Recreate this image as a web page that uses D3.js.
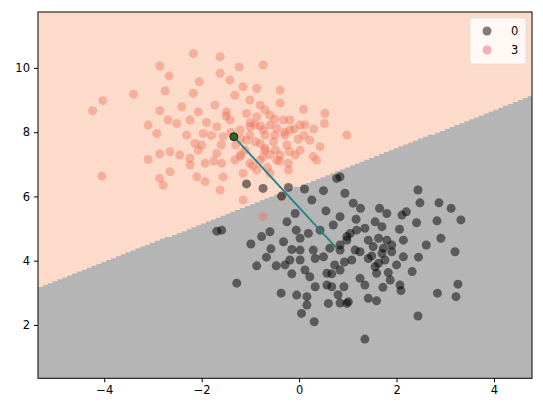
<!DOCTYPE html>
<html><head><meta charset="utf-8">
<script src="https://cdn.jsdelivr.net/npm/d3@7/dist/d3.min.js"></script>
<style>body{margin:0;background:#fff}svg{display:block}text{font-family:"DejaVu Sans",sans-serif}</style>
</head><body><svg id="c" width="543" height="413"></svg>
<script>
const xDomain=[-5.36,4.78];
const yDomain=[0.34,11.74];
const xTicks=[-4,-2,0,2,4];
const yTicks=[2,4,6,8,10];
const boundaryLeftY=3.15, boundaryRightY=9.12;
const class0X=[-1.08,-0.74,-0.22,-0.36,0.11,0.50,0.26,0.77,0.55,-1.69,-1.59,-0.99,-0.77,-0.60,-0.32,-0.58,-0.25,-0.08,-0.06,0.02,0.19,0.43,0.70,-0.15,0.02,-0.67,-0.87,-0.47,-0.29,-0.19,-0.15,0.02,0.12,0.22,0.29,0.33,0.50,0.63,0.57,0.67,-1.28,-0.37,-0.05,0.16,0.33,0.57,0.67,0.16,0.60,0.05,0.31,
2.44,2.48,2.87,3.12,3.32,2.41,2.83,0.94,0.84,1.11,1.26,1.65,1.80,2.11,2.20,1.17,1.56,1.70,0.84,2.06,1.05,0.98,1.18,1.35,1.42,1.63,1.80,1.90,2.14,2.61,2.91,3.20,0.84,1.08,1.25,1.49,1.70,1.90,1.76,2.14,2.45,0.84,1.25,1.35,1.56,1.63,1.83,2.00,2.32,0.92,1.72,2.07,2.09,2.84,3.26,3.22,0.98,1.42,1.59,2.44,1.35,1.52,1.73,1.42,1.59,1.87,0.98,1.15,0.84,0.93,0.73,0.80,0.84,1.01];
const class0Y=[6.39,6.25,6.28,6.01,6.23,6.18,5.89,6.56,5.55,4.92,4.95,4.52,4.75,4.90,4.59,4.37,5.21,5.47,4.95,4.70,4.85,4.95,5.11,4.35,4.33,4.11,3.84,3.84,3.87,4.02,3.59,4.02,3.71,3.50,4.33,4.07,4.12,4.39,3.61,3.59,3.30,2.99,2.93,2.88,3.19,3.24,3.19,2.62,2.67,2.36,2.10,
6.20,5.80,5.80,5.63,5.27,5.18,5.24,6.10,6.61,5.79,5.63,5.63,5.47,5.42,5.52,5.29,5.21,5.06,5.37,4.98,4.85,4.64,4.95,5.01,4.64,4.70,4.64,4.49,4.64,4.49,4.70,4.28,4.33,4.02,4.28,4.15,4.23,4.28,4.02,4.12,4.11,3.71,3.45,3.24,3.81,3.92,3.63,3.87,3.66,3.19,3.17,3.24,3.07,2.99,3.27,2.88,2.67,2.83,2.75,2.28,1.56,4.44,4.39,4.07,3.61,3.40,4.75,4.33,4.49,3.96,3.87,2.94,2.68,2.72];
const class3X=[-2.17,-2.86,-2.67,-3.40,-2.75,-2.05,-4.03,-4.24,-2.86,-2.41,-2.17,-3.10,-2.92,-2.69,-2.51,-2.24,-2.07,-2.31,-2.14,-1.97,-3.10,-2.86,-2.65,-2.45,-2.24,-2.07,-4.05,-2.65,-2.86,-2.79,-2.24,-2.10,-1.93,-1.93,
-1.62,-1.23,-0.74,-1.62,-1.42,-1.15,-0.87,-0.39,-1.73,-1.49,-1.32,-1.01,-0.80,-0.39,0.09,0.53,0.52,-1.08,-0.87,-0.60,-0.32,-1.69,-1.56,-1.01,-0.74,-0.46,-0.19,-0.02,-1.08,-0.80,-0.53,-0.25,0.43,0.36,-1.69,-1.59,-1.21,-1.01,-0.74,-0.46,-0.22,-1.56,-1.62,-1.15,-0.87,-0.60,-0.22,-1.15,-0.74,-0.36,0.02,0.12,0.22,-0.70,0.98,0.29,
-1.42,-1.21,-1.01,-0.91,-0.70,-0.60,-0.49,-0.29,-0.80,-1.11,-1.32,-0.39,-0.08,-0.19,-0.70,0.02,
-1.30,-1.20,-0.90,-0.70,-0.50,-0.30,-0.10,-1.00,-0.80,-0.50,-1.40,-1.60,-1.80,-1.90,-1.50,-0.60,-0.40,-0.20,0.10,0.30,-1.20,-0.95,-0.65,-1.75,-2.00];
const class3Y=[10.45,10.06,9.75,9.18,9.29,9.57,8.98,8.67,8.67,8.79,9.21,8.22,7.96,8.38,8.27,8.38,8.63,7.91,7.65,7.96,7.15,7.32,7.39,7.29,7.19,7.44,6.63,6.77,6.56,6.35,6.98,6.61,7.03,6.46,
10.35,10.03,10.09,9.83,9.62,9.41,9.36,9.31,8.84,8.63,9.15,9.00,8.84,8.90,8.71,8.58,8.27,8.58,8.48,8.53,8.38,8.17,7.86,8.17,8.07,8.12,8.07,7.78,7.75,7.65,7.70,7.60,7.55,7.13,7.34,7.03,7.24,7.03,7.24,7.13,7.03,6.61,6.20,6.72,6.82,6.72,6.82,5.89,5.37,5.99,7.44,8.22,7.75,7.44,7.91,7.24,
8.38,8.07,7.91,8.22,7.91,8.22,7.44,7.91,7.13,7.44,7.13,7.29,7.29,8.38,8.69,8.22,
7.60,7.80,7.70,7.50,7.90,8.00,8.10,8.30,8.20,8.40,8.00,7.60,7.90,8.30,8.50,7.30,7.10,7.40,7.90,8.10,7.30,6.95,6.90,7.10,7.60];
const pathX=[-1.34,0.77], pathY=[7.86,4.39];
const legendLabels=["0","3"];

const svg=d3.select("#c");
const L=38,R=532,T=12,B=378.3;
const x=d3.scaleLinear().domain(xDomain).range([L,R]);
const y=d3.scaleLinear().domain(yDomain).range([B,T]);
svg.append("clipPath").attr("id","clp").append("rect").attr("x",L).attr("y",T).attr("width",R-L).attr("height",B-T);
const g=svg.append("g").attr("clip-path","url(#clp)");
g.append("rect").attr("x",L).attr("y",T).attr("width",R-L).attr("height",B-T).attr("fill","#b5b5b5");
// decision region (staircase from mesh)
const step=0.05, slope=(boundaryRightY-boundaryLeftY)/(xDomain[1]-xDomain[0]);
const pts=[];
for(let xv=xDomain[0]-0.1;xv<=xDomain[1]+0.1;xv+=step){
  const by=Math.ceil((boundaryLeftY+slope*(xv-xDomain[0]))/0.06)*0.06;
  pts.push([x(xv),y(by)]);pts.push([x(xv+step),y(by)]);
}
const poly=[[x(xDomain[0]-0.2),y(yDomain[1]+1)],...pts,[x(xDomain[1]+0.3),y(yDomain[1]+1)]];
g.append("path").attr("d",d3.line()(poly)+"Z").attr("fill","#fddbcb");
// points
g.selectAll(".p3").data(class3X.map((v,i)=>[v,class3Y[i]])).join("circle")
 .attr("cx",d=>x(d[0])).attr("cy",d=>y(d[1])).attr("r",4.5).attr("fill","#ec7357").attr("fill-opacity",0.42);
g.selectAll(".p0").data(class0X.map((v,i)=>[v,class0Y[i]])).join("circle")
 .attr("cx",d=>x(d[0])).attr("cy",d=>y(d[1])).attr("r",4.5).attr("fill","#000").attr("fill-opacity",0.5);
// path line
const ln=d3.line().x((d,i)=>x(pathX[i])).y((d,i)=>y(pathY[i]));
g.append("path").attr("d",ln(pathX)).attr("stroke","#2ca02c").attr("stroke-width",2.2).attr("fill","none").attr("stroke-opacity",0.6);
g.append("path").attr("d",ln(pathX)).attr("stroke","#1f77b4").attr("stroke-width",1.3).attr("fill","none");
g.append("circle").attr("cx",x(pathX[0])).attr("cy",y(pathY[0])).attr("r",4).attr("fill","#2a6a1e").attr("stroke","#222").attr("stroke-width",1);
// frame & axes
svg.append("rect").attr("x",L).attr("y",T).attr("width",R-L).attr("height",B-T).attr("fill","none").attr("stroke","#000").attr("stroke-width",1);
const fmt=d=>d<0?"\u2212"+Math.abs(d):String(d);
const xa=svg.append("g").attr("transform",`translate(0,${B})`).call(d3.axisBottom(x).tickValues(xTicks).tickSize(4).tickPadding(4).tickFormat(fmt));
const ya=svg.append("g").attr("transform",`translate(${L},0)`).call(d3.axisLeft(y).tickValues(yTicks).tickSize(4).tickPadding(4).tickFormat(fmt));
[xa,ya].forEach(a=>{a.select(".domain").remove();a.selectAll("text").attr("font-size",11.5).attr("fill","#000").attr("font-family","DejaVu Sans");a.selectAll("line").attr("stroke","#000");});
// legend
const lg=svg.append("g");
lg.append("rect").attr("x",470).attr("y",18).attr("width",56).attr("height",46).attr("rx",3).attr("fill","#fff").attr("fill-opacity",0.8).attr("stroke","#ddd").attr("stroke-width",0.8);
const lcol=["#000","#e8405a"];
legendLabels.forEach((lab,i)=>{
  lg.append("circle").attr("cx",487).attr("cy",31+i*19).attr("r",4.5).attr("fill",lcol[i]).attr("fill-opacity",i?0.4:0.5);
  lg.append("text").attr("x",511).attr("y",35+i*19).attr("font-size",11.5).text(lab);
});
</script></body></html>
